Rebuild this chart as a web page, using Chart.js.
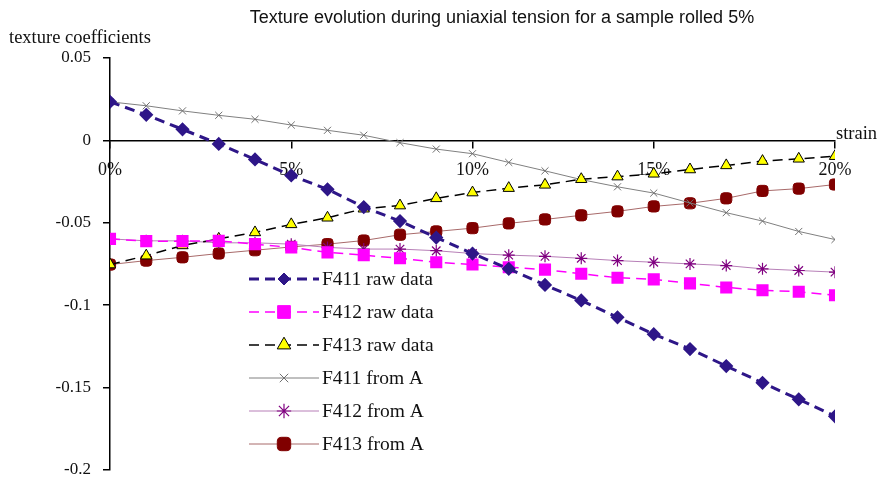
<!DOCTYPE html>
<html lang="en">
<head>
<meta charset="UTF-8">
<title>Texture evolution during uniaxial tension</title>
<script src="https://cdn.jsdelivr.net/npm/chart.js"></script>
<style>
  html, body { margin: 0; padding: 0; background: #fff; }
  canvas { display: block; }
</style>
</head>
<body>
<canvas id="chart" width="882" height="492"></canvas>
<script>
// strain in %, one point per percent
const strain = [0, 1, 2, 3, 4, 5, 6, 7, 8, 9, 10, 11, 12, 13, 14, 15, 16, 17, 18, 19, 20];

const f411Raw = [0.0234, 0.0155, 0.0067, -0.0022, -0.0116, -0.0213, -0.0297, -0.0405, -0.049, -0.059,
  -0.0687, -0.078, -0.0878, -0.0972, -0.1074, -0.1177, -0.1267, -0.137, -0.1472, -0.1572, -0.1675];
const f412Raw = [-0.0598, -0.0612, -0.0612, -0.061, -0.063, -0.065, -0.068, -0.0697, -0.0716, -0.074,
  -0.0754, -0.077, -0.0785, -0.081, -0.0834, -0.0844, -0.0868, -0.0893, -0.091, -0.0919, -0.094];
const f413Raw = [-0.0754, -0.070, -0.0638, -0.0598, -0.0559, -0.051, -0.047, -0.0415, -0.0396, -0.0352,
  -0.0317, -0.029, -0.027, -0.0236, -0.022, -0.0203, -0.0177, -0.0152, -0.0126, -0.0112, -0.0096];
const f411FromA = [0.0234, 0.021, 0.0179, 0.0152, 0.0128, 0.0093, 0.0061, 0.0031, -0.0014, -0.0053,
  -0.0081, -0.0134, -0.0185, -0.0238, -0.0282, -0.032, -0.038, -0.0439, -0.049, -0.0553, -0.0602];
const f412FromA = [-0.0598, -0.061, -0.061, -0.0622, -0.0622, -0.063, -0.065, -0.066, -0.066, -0.067,
  -0.0687, -0.0697, -0.0704, -0.0716, -0.073, -0.074, -0.075, -0.076, -0.078, -0.079, -0.080];
const f413FromA = [-0.0754, -0.073, -0.071, -0.0687, -0.0667, -0.0647, -0.063, -0.0608, -0.0573, -0.0553,
  -0.0533, -0.0504, -0.048, -0.0455, -0.0431, -0.0401, -0.0382, -0.0352, -0.0307, -0.0293, -0.0268];

const xTicks = [0, 5, 10, 15, 20];
const yTicks = [0.05, 0, -0.05, -0.1, -0.15, -0.2];

const serif = '"Liberation Serif", "Times New Roman", serif';
const sans = '"Liberation Sans", Arial, sans-serif';

const datasets = [
  { label: 'F411 raw data', data: f411Raw, borderColor: '#2e1688', backgroundColor: '#2e1688',
    pointBorderColor: '#2e1688', borderWidth: 3, borderDash: [10, 6], pointStyle: 'rectRot', pointRadius: 5 },
  { label: 'F412 raw data', data: f412Raw, borderColor: '#ff00ff', backgroundColor: '#ff00ff',
    pointBorderColor: '#ff00ff', borderWidth: 1.5, borderDash: [10, 6], pointStyle: 'rect', pointRadius: 7.5 },
  { label: 'F413 raw data', data: f413Raw, borderColor: '#000000', backgroundColor: '#ffff00',
    pointBorderColor: '#000000', pointBorderWidth: 1, borderWidth: 1.5, borderDash: [10, 6],
    pointStyle: 'triangle', pointRadius: 6.5 },
  { label: 'F411 from A', data: f411FromA, borderColor: '#808080', backgroundColor: '#808080',
    pointBorderColor: '#707070', borderWidth: 1, pointStyle: 'crossRot', pointRadius: 5, pointBorderWidth: 1 },
  { label: 'F412 from A', data: f412FromA, borderColor: '#b77fb7', backgroundColor: '#800080',
    pointBorderColor: '#800080', borderWidth: 1, pointStyle: 'star', pointRadius: 6, pointBorderWidth: 1.2 },
  { label: 'F413 from A', data: f413FromA, borderColor: '#a86a6a', backgroundColor: '#800000',
    pointBorderColor: '#800000', borderWidth: 1, pointStyle: 'rectRounded', pointRadius: 6.5 }
];
datasets.forEach(d => { d.fill = false; d.tension = 0; d.pointHoverRadius = d.pointRadius; });

// title, axis names and the legend box inside the plot
const annotations = {
  id: 'annotations',
  afterDraw(chart) {
    const { ctx, chartArea } = chart;
    ctx.save();
    ctx.fillStyle = '#111';
    ctx.font = '18px ' + sans;
    ctx.textAlign = 'center';
    ctx.textBaseline = 'middle';
    ctx.fillText('Texture evolution during uniaxial tension for a sample rolled 5%', 502, 18);

    ctx.font = '18.5px ' + serif;
    ctx.textAlign = 'left';
    ctx.fillText('texture coefficients', 9, 38);
    ctx.fillText('strain', chartArea.right + 1, 134);

    // legend
    const rowY = [279, 312, 345, 378, 411, 444];
    chart.data.datasets.forEach((ds, i) => {
      const y = rowY[i];
      ctx.save();
      ctx.strokeStyle = ds.borderColor;
      ctx.lineWidth = ds.borderWidth;
      ctx.setLineDash(ds.borderDash || []);
      ctx.beginPath();
      ctx.moveTo(249, y);
      ctx.lineTo(319, y);
      ctx.stroke();
      ctx.restore();
      ctx.save();
      ctx.fillStyle = ds.backgroundColor;
      ctx.strokeStyle = ds.pointBorderColor || ds.borderColor;
      ctx.lineWidth = ds.pointBorderWidth || 1;
      Chart.helpers.drawPoint(ctx, {
        pointStyle: ds.pointStyle, radius: ds.pointRadius * 1.2,
        borderWidth: ds.pointBorderWidth || 1, rotation: 0
      }, 284, y);
      ctx.restore();
      ctx.fillStyle = '#111';
      ctx.font = '19.5px ' + serif;
      ctx.textBaseline = 'middle';
      ctx.fillText(ds.label, 322, y + 1);
    });
    ctx.restore();
  }
};

new Chart(document.getElementById('chart'), {
  type: 'line',
  data: { labels: strain, datasets },
  options: {
    responsive: false,
    animation: false,
    layout: { padding: { top: 58, right: 47, bottom: 10, left: 0 } },
    plugins: { legend: { display: false }, tooltip: { enabled: false } },
    scales: {
      x: {
        type: 'linear',
        min: 0, max: 20,
        position: { y: 0 },
        grid: { drawOnChartArea: false, drawTicks: true, tickLength: 7, color: '#000', lineWidth: 1.5 },
        border: { color: '#000', width: 1.5 },
        afterBuildTicks: s => { s.ticks = xTicks.map(v => ({ value: v })); },
        ticks: {
          color: '#111', padding: 12, maxRotation: 0,
          font: { family: serif, size: 18 },
          callback: v => v + '%'
        }
      },
      y: {
        type: 'linear',
        min: -0.2, max: 0.05,
        afterFit: s => { s.width = 110; },
        afterBuildTicks: s => { s.ticks = yTicks.map(v => ({ value: v })); },
        grid: { drawOnChartArea: false, drawTicks: true, tickLength: 7, color: '#000', lineWidth: 1.5 },
        border: { color: '#000', width: 1.5 },
        ticks: {
          color: '#111', padding: 12,
          font: { family: serif, size: 17 },
          callback: v => String(Math.round(v * 100) / 100)
        }
      }
    }
  },
  plugins: [annotations]
});
</script>
</body>
</html>
